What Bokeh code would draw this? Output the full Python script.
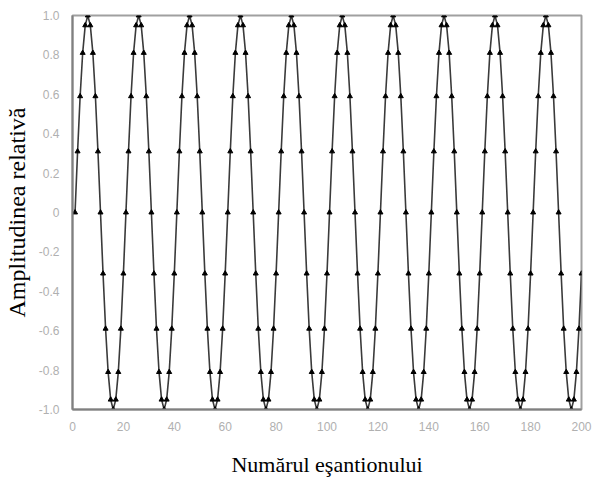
from bokeh.plotting import figure
from bokeh.models import Range1d, FixedTicker
from bokeh.embed import file_html
from bokeh.resources import INLINE

# Sample numbers and relative amplitude of the sampled sine wave
sample_index = list(range(1, 201))
amplitude = [
    0.0, 0.31, 0.59, 0.81, 0.95, 1.0, 0.95, 0.81, 0.59, 0.31, 0.0, -0.31, -0.59, -0.81, -0.95, -1.0, -0.95, -0.81, -0.59, -0.31,
    0.0, 0.31, 0.59, 0.81, 0.95, 1.0, 0.95, 0.81, 0.59, 0.31, 0.0, -0.31, -0.59, -0.81, -0.95, -1.0, -0.95, -0.81, -0.59, -0.31,
    0.0, 0.31, 0.59, 0.81, 0.95, 1.0, 0.95, 0.81, 0.59, 0.31, 0.0, -0.31, -0.59, -0.81, -0.95, -1.0, -0.95, -0.81, -0.59, -0.31,
    0.0, 0.31, 0.59, 0.81, 0.95, 1.0, 0.95, 0.81, 0.59, 0.31, 0.0, -0.31, -0.59, -0.81, -0.95, -1.0, -0.95, -0.81, -0.59, -0.31,
    0.0, 0.31, 0.59, 0.81, 0.95, 1.0, 0.95, 0.81, 0.59, 0.31, 0.0, -0.31, -0.59, -0.81, -0.95, -1.0, -0.95, -0.81, -0.59, -0.31,
    0.0, 0.31, 0.59, 0.81, 0.95, 1.0, 0.95, 0.81, 0.59, 0.31, 0.0, -0.31, -0.59, -0.81, -0.95, -1.0, -0.95, -0.81, -0.59, -0.31,
    0.0, 0.31, 0.59, 0.81, 0.95, 1.0, 0.95, 0.81, 0.59, 0.31, 0.0, -0.31, -0.59, -0.81, -0.95, -1.0, -0.95, -0.81, -0.59, -0.31,
    0.0, 0.31, 0.59, 0.81, 0.95, 1.0, 0.95, 0.81, 0.59, 0.31, 0.0, -0.31, -0.59, -0.81, -0.95, -1.0, -0.95, -0.81, -0.59, -0.31,
    0.0, 0.31, 0.59, 0.81, 0.95, 1.0, 0.95, 0.81, 0.59, 0.31, 0.0, -0.31, -0.59, -0.81, -0.95, -1.0, -0.95, -0.81, -0.59, -0.31,
    0.0, 0.31, 0.59, 0.81, 0.95, 1.0, 0.95, 0.81, 0.59, 0.31, 0.0, -0.31, -0.59, -0.81, -0.95, -1.0, -0.95, -0.81, -0.59, -0.31,
]

x_ticks = [0, 20, 40, 60, 80, 100, 120, 140, 160, 180, 200]
y_ticks = [-1.0, -0.8, -0.6, -0.4, -0.2, 0.0, 0.2, 0.4, 0.6, 0.8, 1.0]
y_tick_labels = {-1.0: "-1.0", -0.8: "-0.8", -0.6: "-0.6", -0.4: "-0.4", -0.2: "-0.2",
                 0.0: "0", 0.2: "0.2", 0.4: "0.4", 0.6: "0.6", 0.8: "0.8", 1.0: "1.0"}

p = figure(width=595, height=479, output_backend="svg", toolbar_location=None,
           x_range=Range1d(0, 200), y_range=Range1d(-1.0, 1.0))
p.min_border_left = 72
p.min_border_right = 14
p.min_border_top = 15
p.min_border_bottom = 68

p.background_fill_color = "white"
p.border_fill_color = "white"
p.outline_line_color = "#a0a0a0"
p.outline_line_width = 2
p.xgrid.visible = False
p.ygrid.visible = False

p.line(sample_index, amplitude, line_color="#3a3a3a", line_width=1.6)
p.scatter(sample_index, amplitude, marker="triangle", size=5,
          fill_color="black", line_color="black")

for ax in (p.xaxis[0], p.yaxis[0]):
    ax.axis_line_color = "#808080"
    ax.axis_line_width = 2
    ax.major_tick_line_color = None
    ax.minor_tick_line_color = None
    ax.major_label_text_font = "Liberation Sans"
    ax.major_label_text_font_size = "12px"
    ax.major_label_text_color = "#b0b0b0"
    ax.axis_label_text_font = "Liberation Serif"
    ax.axis_label_text_font_style = "normal"
    ax.axis_label_text_color = "black"

p.xaxis.axis_label_text_font_size = "22px"
p.yaxis.axis_label_text_font_size = "24px"
p.xaxis.ticker = FixedTicker(ticks=x_ticks)
p.yaxis.ticker = FixedTicker(ticks=y_ticks)
p.yaxis.major_label_overrides = y_tick_labels
p.xaxis.major_label_standoff = 6
p.yaxis.major_label_standoff = 7
p.xaxis.axis_label = "Numărul eşantionului"
p.yaxis.axis_label = "Amplitudinea relativă"
p.xaxis.axis_label_standoff = 18
p.yaxis.axis_label_standoff = 6

open("out.html", "w").write(file_html(p, INLINE))
